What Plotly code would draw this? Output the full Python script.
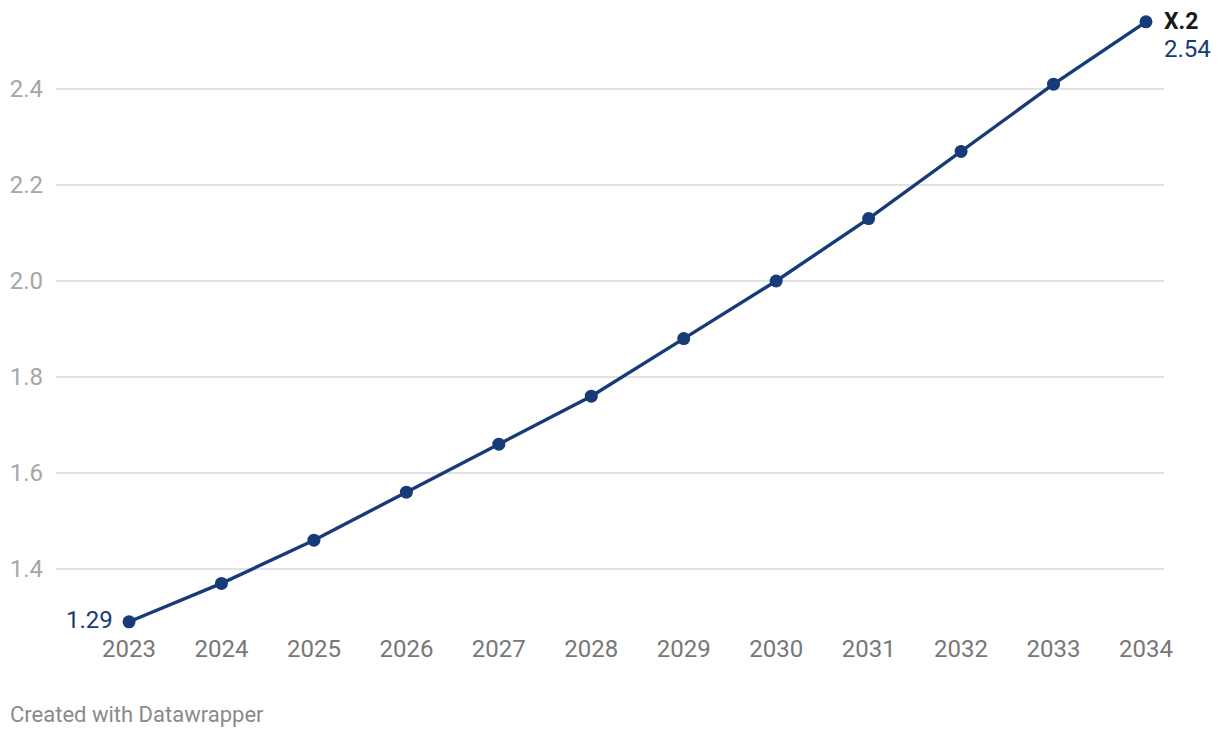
import plotly.graph_objects as go

years = [2023, 2024, 2025, 2026, 2027, 2028, 2029, 2030, 2031, 2032, 2033, 2034]
values = [1.29, 1.37, 1.46, 1.56, 1.66, 1.76, 1.88, 2.00, 2.13, 2.27, 2.41, 2.54]
y_ticks = [1.4, 1.6, 1.8, 2.0, 2.2, 2.4]
y_tick_text = ["1.4", "1.6", "1.8", "2.0", "2.2", "2.4"]
series_name = "X.2"

line_color = "#173a78"

fig = go.Figure()
fig.add_trace(go.Scatter(
    x=years, y=values, mode="lines+markers",
    line=dict(color=line_color, width=3.4),
    marker=dict(color=line_color, size=13),
    cliponaxis=False, showlegend=False, hoverinfo="x+y",
))

# start value label
fig.add_annotation(x=years[0], y=values[0], text=f"{values[0]:.2f}", showarrow=False,
                   xanchor="right", yanchor="middle", xshift=-14, yshift=2,
                   font=dict(family="Roboto", size=24, color=line_color))
# end labels
fig.add_annotation(x=years[-1], y=values[-1], text=f"<b>{series_name}</b>", showarrow=False,
                   xanchor="left", yanchor="middle", xshift=16, yshift=0,
                   font=dict(family="Roboto", size=23, color="#1a1a1a"))
fig.add_annotation(x=years[-1], y=values[-1], text=f"{values[-1]:.2f}", showarrow=False,
                   xanchor="left", yanchor="middle", xshift=16, yshift=-27,
                   font=dict(family="Roboto", size=24, color=line_color))

# footer
fig.add_annotation(xref="paper", yref="paper", x=-48/1108, y=-(714-630)/630, text="Created with Datawrapper",
                   showarrow=False, xanchor="left", yanchor="middle",
                   font=dict(family="Roboto", size=22, color="#8a8a8a"))

fig.update_layout(
    width=1220, height=738,
    margin=dict(l=56, r=56, t=0, b=108),
    paper_bgcolor="white", plot_bgcolor="white",
    font=dict(family="Roboto"),
    xaxis=dict(
        range=[2022.21, 2034.195],
        tickvals=years, ticktext=[str(y) for y in years],
        showgrid=False, zeroline=False, showline=False,
        ticks="", ticklabelstandoff=2,
        tickfont=dict(family="Roboto", size=24, color="#777777"),
    ),
    yaxis=dict(
        range=[1.2729, 2.5854],
        tickvals=y_ticks, ticktext=y_tick_text,
        showgrid=True, gridcolor="#e2e2e2", gridwidth=1.5,
        zeroline=False, showline=False, ticks="",
        ticklabelstandoff=12,
        tickfont=dict(family="Roboto", size=24, color="#a6a6a6"),
    ),
)

fig.write_html("out.html")
